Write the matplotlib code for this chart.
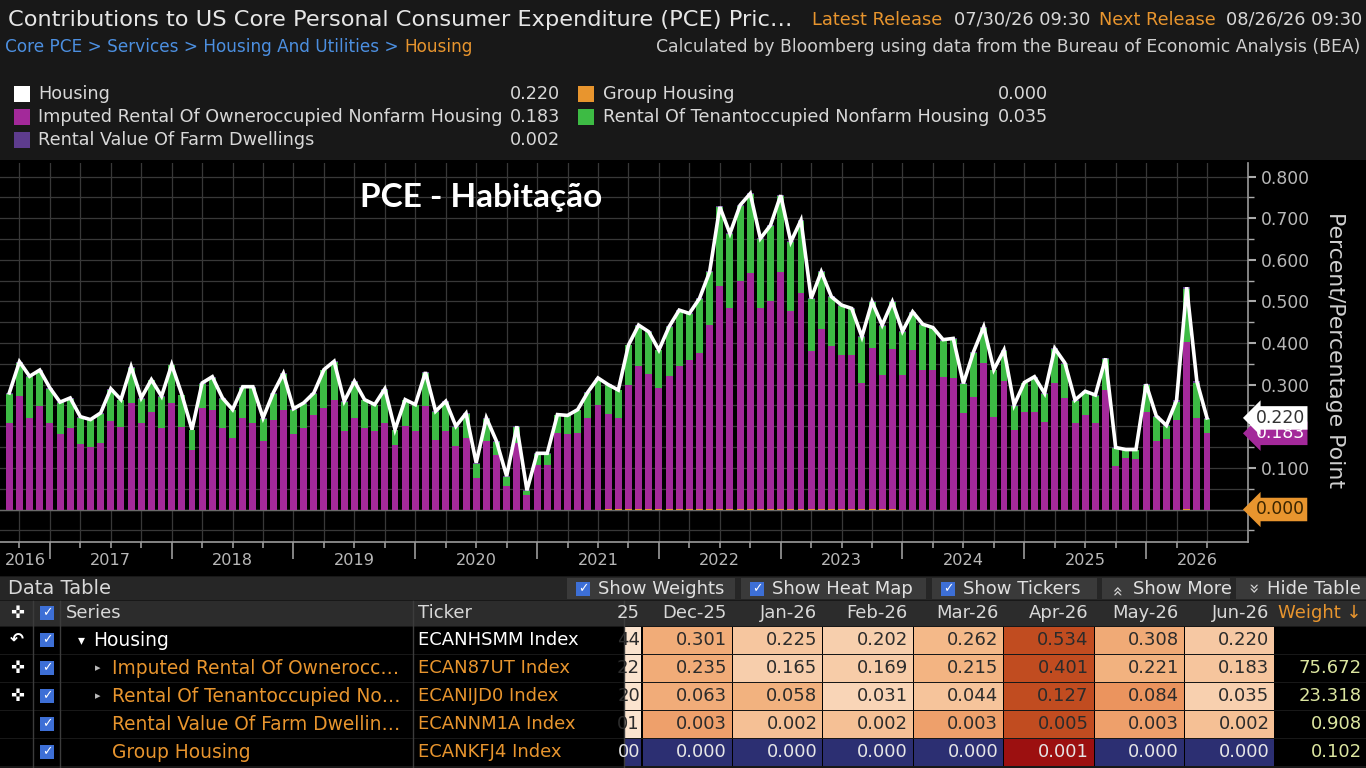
import numpy as np
import matplotlib
matplotlib.use("Agg")
from matplotlib import pyplot as plt
from matplotlib.patches import Rectangle
from matplotlib.colors import LinearSegmentedColormap
from matplotlib.transforms import blended_transform_factory

W, H = 1366, 768

# monthly contributions (percentage points), Aug 2016 .. Jun 2026
FIRST_YEAR, FIRST_MONTH = 2016, 8

housing = [
    0.280, 0.355, 0.320, 0.335, 0.292,
    0.258, 0.268, 0.223, 0.216, 0.232, 0.290, 0.264, 0.343, 0.268, 0.312, 0.272, 0.348,
    0.276, 0.192, 0.304, 0.319, 0.268, 0.240, 0.295, 0.295, 0.220, 0.280, 0.327, 0.242,
    0.256, 0.280, 0.336, 0.356, 0.260, 0.308, 0.264, 0.252, 0.290, 0.192, 0.264, 0.252,
    0.330, 0.236, 0.260, 0.200, 0.231, 0.112, 0.220, 0.164, 0.080, 0.200, 0.046, 0.135,
    0.135, 0.228, 0.226, 0.240, 0.282, 0.316, 0.300, 0.287, 0.395, 0.443, 0.427, 0.383,
    0.439, 0.479, 0.471, 0.507, 0.571, 0.727, 0.663, 0.731, 0.759, 0.651, 0.683, 0.755,
    0.643, 0.695, 0.507, 0.571, 0.511, 0.491, 0.483, 0.415, 0.499, 0.443, 0.499, 0.428,
    0.475, 0.445, 0.437, 0.408, 0.411, 0.303, 0.379, 0.439, 0.336, 0.383, 0.251, 0.305,
    0.319, 0.279, 0.387, 0.352, 0.263, 0.284, 0.275, 0.363, 0.149, 0.144, 0.144, 0.301,
    0.225, 0.202, 0.262, 0.534, 0.308, 0.220,
]
imputed = [
    0.208, 0.272, 0.220, 0.248, 0.208,
    0.182, 0.195, 0.158, 0.150, 0.160, 0.212, 0.199, 0.255, 0.208, 0.234, 0.196, 0.255,
    0.199, 0.144, 0.243, 0.239, 0.196, 0.172, 0.220, 0.208, 0.164, 0.216, 0.240, 0.182,
    0.196, 0.228, 0.243, 0.262, 0.188, 0.220, 0.195, 0.188, 0.208, 0.156, 0.200, 0.188,
    0.248, 0.168, 0.188, 0.152, 0.172, 0.076, 0.164, 0.130, 0.056, 0.160, 0.034, 0.108,
    0.108, 0.184, 0.182, 0.184, 0.220, 0.252, 0.228, 0.219, 0.299, 0.343, 0.325, 0.291,
    0.319, 0.343, 0.357, 0.376, 0.443, 0.535, 0.484, 0.549, 0.567, 0.484, 0.501, 0.569,
    0.475, 0.519, 0.379, 0.432, 0.391, 0.371, 0.371, 0.304, 0.387, 0.323, 0.384, 0.323,
    0.383, 0.335, 0.335, 0.319, 0.317, 0.232, 0.271, 0.351, 0.223, 0.309, 0.192, 0.234,
    0.234, 0.211, 0.303, 0.267, 0.207, 0.227, 0.207, 0.288, 0.104, 0.123, 0.122, 0.235,
    0.165, 0.169, 0.215, 0.401, 0.221, 0.183,
]
tenant = [
    0.070, 0.081, 0.098, 0.085, 0.082,
    0.074, 0.071, 0.063, 0.064, 0.070, 0.076, 0.063, 0.086, 0.058, 0.076, 0.074, 0.091,
    0.075, 0.046, 0.059, 0.078, 0.070, 0.066, 0.073, 0.085, 0.054, 0.062, 0.085, 0.058,
    0.058, 0.050, 0.091, 0.092, 0.070, 0.086, 0.067, 0.062, 0.080, 0.034, 0.062, 0.062,
    0.080, 0.066, 0.070, 0.046, 0.057, 0.034, 0.054, 0.032, 0.022, 0.038, 0.010, 0.025,
    0.025, 0.042, 0.042, 0.054, 0.060, 0.062, 0.070, 0.066, 0.094, 0.098, 0.100, 0.090,
    0.118, 0.134, 0.112, 0.129, 0.126, 0.190, 0.177, 0.180, 0.190, 0.165, 0.180, 0.184,
    0.166, 0.174, 0.126, 0.137, 0.118, 0.118, 0.110, 0.109, 0.110, 0.118, 0.113, 0.103,
    0.090, 0.108, 0.100, 0.087, 0.092, 0.069, 0.106, 0.086, 0.111, 0.072, 0.057, 0.069,
    0.083, 0.066, 0.082, 0.083, 0.054, 0.055, 0.066, 0.073, 0.043, 0.019, 0.020, 0.063,
    0.058, 0.031, 0.044, 0.127, 0.084, 0.035,
]
farm = [0.002] * 111 + [0.001, 0.003, 0.002, 0.002, 0.003, 0.005, 0.003, 0.002]
group = [0.000] * 59 + [0.001] * 29 + [0.000] * 28 + [0.001, 0.000, 0.000]

table_names = ["Housing", "Imputed Rental Of Ownerocc\u2026", "Rental Of Tenantoccupied No\u2026",
               "Rental Value Of Farm Dwellin\u2026", "Group Housing"]
tickers = ["ECANHSMM Index", "ECAN87UT Index", "ECANIJD0 Index", "ECANNM1A Index", "ECANKFJ4 Index"]
weights = [None, 75.672, 23.318, 0.908, 0.102]
month_names = ["Jan", "Feb", "Mar", "Apr", "May", "Jun", "Jul", "Aug", "Sep", "Oct", "Nov", "Dec"]

MAGENTA = "#a3299a"
GREEN = "#3dbb44"
PURPLE = "#5e3c8e"
ORANGE = "#e8952e"
TXT = "#d8d8d8"
BLUE_BOX = "#3d6fd6"


def fx(px):
    return px / W


def fy(py):
    return 1 - py / H


fig = plt.figure(figsize=(W / 100, H / 100), dpi=100, facecolor="#181818")


def rect(x, y, w, h, color, z=-1):
    fig.add_artist(Rectangle((fx(x), fy(y + h)), w / W, h / H, transform=fig.transFigure,
                             facecolor=color, edgecolor="none", zorder=z))


def label(x, y, s, size=12.2, color=TXT, ha="left", **kw):
    return fig.text(fx(x), fy(y), s, fontsize=size, color=color, ha=ha, va="center", **kw)


def checkbox(x, y):
    rect(x, y - 7, 14, 14, BLUE_BOX, z=2)
    label(x + 7, y, "\u2713", size=9, color="white", ha="center", weight="bold")


# ---- header
label(8, 20, "Contributions to US Core Personal Consumer Expenditure (PCE) Pric\u2026", size=16.2, color="#e6e6e6")
label(942, 20, "Latest Release", size=12.8, color=ORANGE, ha="right")
label(1090, 20, "07/30/26 09:30", size=12.8, ha="right")
label(1216, 20, "Next Release", size=12.8, color=ORANGE, ha="right")
label(1362, 20, "08/26/26 09:30", size=12.8, ha="right")
crumb = label(5, 47, "Core PCE > Services > Housing And Utilities > ", size=12.2, color="#4c8fe0")
renderer = fig.canvas.get_renderer()
crumb_end = crumb.get_window_extent(renderer).x1
label(crumb_end, 47, "Housing", size=12.2, color=ORANGE)
label(1360, 47, "Calculated by Bloomberg using data from the Bureau of Economic Analysis (BEA)",
      size=12.4, color="#cfcfcf", ha="right")

legend_left = [("Housing", housing, "white"), ("Imputed Rental Of Owneroccupied Nonfarm Housing", imputed, MAGENTA),
               ("Rental Value Of Farm Dwellings", farm, PURPLE)]
legend_right = [("Group Housing", group, ORANGE), ("Rental Of Tenantoccupied Nonfarm Housing", tenant, GREEN)]
for k, (name, vals, col) in enumerate(legend_left):
    y = 94 + 23 * k
    rect(14, y - 8, 16, 16, col, z=1)
    label(38, y, name, size=12.7)
    label(560, y, f"{vals[-1]:.3f}", size=12.7, ha="right")
for k, (name, vals, col) in enumerate(legend_right):
    y = 94 + 23 * k
    rect(578, y - 8, 16, 16, col, z=1)
    label(603, y, name, size=12.7)
    label(1048, y, f"{vals[-1]:.3f}", size=12.7, ha="right")

# ---- chart
rect(0, 160, W, 416, "black")
AX_L, AX_R, AX_T, AX_B = 0, 1248, 163, 542
ZERO_PX, PX_PER_UNIT = 509.5, 416.25
BAR0_PX, PX_PER_MONTH = 9.3, 10.15
ax = fig.add_axes([fx(AX_L), fy(AX_B), (AX_R - AX_L) / W, (AX_B - AX_T) / H])
ax.set_facecolor("black")

n = len(housing)
x = np.arange(n)
months = [(FIRST_MONTH - 1 + i) % 12 + 1 for i in range(n)]
years = [FIRST_YEAR + (FIRST_MONTH - 1 + i) // 12 for i in range(n)]

bottom = np.zeros(n)
for vals, col in [(group, ORANGE), (imputed, MAGENTA), (tenant, GREEN), (farm, PURPLE)]:
    ax.bar(x, vals, 0.68, bottom=bottom, color=col, linewidth=0, zorder=2)
    bottom += np.array(vals)
ax.plot(x, housing, color="white", lw=2.6, zorder=4, solid_joinstyle="miter")
ax.axhline(0, color="#6a6a6a", lw=1, zorder=1)

xmin = (AX_L - BAR0_PX) / PX_PER_MONTH
xmax = (AX_R - BAR0_PX) / PX_PER_MONTH
ax.set_xlim(xmin, xmax)
ax.set_ylim((ZERO_PX - AX_B) / PX_PER_UNIT, (ZERO_PX - AX_T) / PX_PER_UNIT)

year_ticks = [i for i in range(n) if months[i] == 12]
quarter_ticks = [i for i in range(n) if months[i] in (3, 6, 9)]
ax.set_xticks(year_ticks)
ax.set_xticks(quarter_ticks, minor=True)
ax.set_xticklabels([])
ax.tick_params(axis="x", which="major", length=12, width=1.2, color="#9a9a9a")
ax.tick_params(axis="x", which="minor", length=4, width=1.2, color="#9a9a9a")

bounds = [xmin] + year_ticks + [xmax]
for k in range(len(bounds) - 1):
    yr = FIRST_YEAR + k
    ax.text((bounds[k] + bounds[k + 1]) / 2, -0.05, str(yr), transform=ax.get_xaxis_transform(),
            ha="center", va="center", fontsize=11.6, color="#b8b8b8", clip_on=False)

# the 0.000 and 0.200 labels sit under the last-value flags, as on the terminal
ytick_vals = np.arange(0, 0.801, 0.1)
ax.yaxis.tick_right()
ax.set_yticks(ytick_vals)
ax.set_yticks(np.arange(-0.05, 0.83, 0.05), minor=True)
ax.set_yticklabels(["" if round(v, 3) in (0.0, 0.2) else f"{v:.3f}" for v in ytick_vals])
ax.tick_params(axis="y", which="major", length=6, width=1.5, color="#aaaaaa", labelcolor="#b8b8b8",
               labelsize=12.4, pad=3)
ax.tick_params(axis="y", which="minor", length=4, width=1, color="#aaaaaa")
ax.set_axisbelow(True)
ax.grid(which="both", color="#383838", lw=0.9)
for side in ["left", "top"]:
    ax.spines[side].set_visible(False)
for side in ["right", "bottom"]:
    ax.spines[side].set_color("#9a9a9a")
    ax.spines[side].set_linewidth(1.2)

trans = blended_transform_factory(ax.transAxes, ax.transData)
flag = dict(transform=trans, va="center", ha="left", fontsize=12.4, clip_on=False)
ax.text(1.006, imputed[-1], f"{imputed[-1]:.3f}", color="white",
        bbox=dict(boxstyle="larrow,pad=0.16", fc=MAGENTA, ec="none"), zorder=10, **flag)
ax.text(1.006, housing[-1], f"{housing[-1]:.3f}", color="#333333",
        bbox=dict(boxstyle="larrow,pad=0.16", fc="white", ec="none"), zorder=11, **flag)
ax.text(1.006, group[-1], f"{group[-1]:.3f}", color="#3a2500",
        bbox=dict(boxstyle="larrow,pad=0.16", fc=ORANGE, ec="none"), zorder=11, **flag)

label(1335, 350, "Percent/Percentage Point", size=15.8, color="#d0d0d0", ha="center", rotation=270)
label(360, 198, "PCE - Habita\u00e7\u00e3o", size=24, color="white", weight="bold", family="Lato")

# ---- data table
rect(0, 577, W, 23, "#262626")
label(8, 589, "Data Table", size=14)
buttons = [(567, 735, "Show Weights", "check"), (741, 926, "Show Heat Map", "check"),
           (932, 1097, "Show Tickers", "check"), (1102, 1230, "Show More", "up"),
           (1236, 1366, "Hide Table", "down")]
for x0, x1, text, icon in buttons:
    rect(x0, 578, x1 - x0, 21, "#3a3a3a")
    if icon == "check":
        checkbox(x0 + 9, 589)
    else:
        label(x0 + 15, 589, "\u00bb", size=13, ha="center", rotation=90 if icon == "up" else -90)
    label(x0 + 31, 589, text, size=13, color="#e0e0e0")

rect(0, 601, W, 25, "#2c2c2c")
label(17, 613, "\u271c", size=12, color="white", ha="center")
checkbox(40, 613)
label(66, 613, "Series", size=13)
label(418, 613, "Ticker", size=13)

col_w = 90.4
col_right = [732 + col_w * j for j in range(7)]
label(640, 613, str(years[-8])[-2:], size=13, ha="right")
for j in range(7):
    idx = n - 7 + j
    label(col_right[j] - 5, 613, f"{month_names[months[idx] - 1]}-{str(years[idx])[-2:]}", size=13, ha="right")
label(1362, 613, "Weight \u2193", size=13, color=ORANGE, ha="right")

heat = LinearSegmentedColormap.from_list("heat", ["#fbe4cf", "#f3b482", "#e98c55", "#c14c20"])
navy = LinearSegmentedColormap.from_list("navy", ["#2c2f72", "#9c1010"])
series = [housing, imputed, tenant, farm, group]
icons = ["\u21b6", "\u271c", "\u271c", "", ""]
for k in range(5):
    yc = 640 + 28 * k
    rect(0, yc - 13.5, W, 27, "black")
    label(17, yc, icons[k], size=12, color="white", ha="center", weight="bold")
    checkbox(40, yc)
    if k == 0:
        label(78, yc, "\u25be", size=10, color="white")
        label(93, yc, table_names[k], size=13.4, color="white")
        label(418, yc, tickers[k], size=13, color="white")
    else:
        if k < 3:
            label(95, yc, "\u25b8", size=8, color="#bbbbbb")
        label(112, yc, table_names[k], size=13.4, color=ORANGE)
        label(418, yc, tickers[k], size=13, color=ORANGE)
    vals = np.array(series[k][-8:])
    t = (vals - vals.min()) / (vals.max() - vals.min())
    cmap = navy if k == 4 else heat
    tcol = "#e6e6e6" if k == 4 else "#2b2b2b"
    rect(625, yc - 13.5, 16, 27, cmap(t[0]), z=0)
    label(640, yc, f"{vals[0]:.3f}"[-2:], size=13, color=tcol, ha="right")
    for j in range(7):
        rect(col_right[j] - col_w + 1, yc - 13.5, col_w - 1, 27, cmap(t[j + 1]), z=0)
        label(col_right[j] - 5, yc, f"{vals[j + 1]:.3f}", size=13, color=tcol, ha="right")
    if weights[k] is not None:
        label(1362, yc, f"{weights[k]:.3f}", size=13, color="#dce6a0", ha="right")

for xs in [33, 60, 413, 624]:
    fig.add_artist(plt.Line2D([fx(xs), fx(xs)], [fy(601), fy(768)], transform=fig.transFigure,
                              color="#3c3c3c", lw=1, zorder=1))

fig.savefig("out.png", dpi=100, facecolor=fig.get_facecolor())
